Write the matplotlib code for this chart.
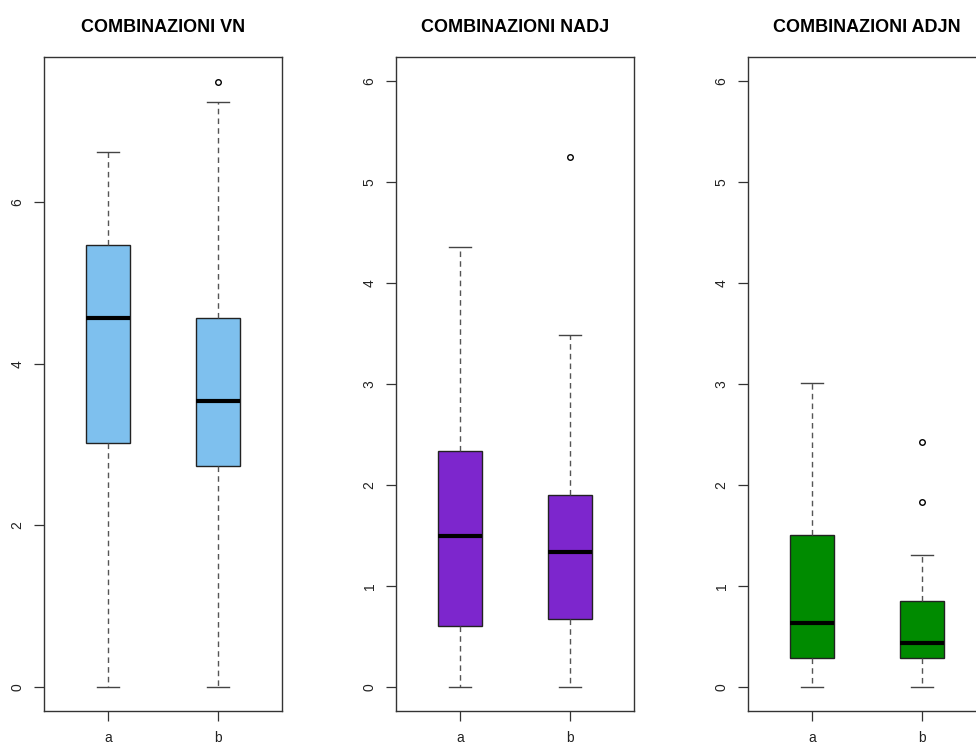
import matplotlib
matplotlib.use("Agg")
import matplotlib.pyplot as plt

plt.rcParams['font.family'] = ['Liberation Sans', 'DejaVu Sans']

titles = ["COMBINAZIONI VN", "COMBINAZIONI NADJ", "COMBINAZIONI ADJN"]
groups = ["a", "b"]
colors = ["#7EC0EE", "#7D26CD", "#008B00"]

# five-number summaries per panel: [group a, group b]
whislo = [[0.0, 0.0], [0.0, 0.0], [0.0, 0.0]]
q1 = [[3.02, 2.74], [0.60, 0.675], [0.29, 0.29]]
med = [[4.57, 3.54], [1.49, 1.34], [0.635, 0.435]]
q3 = [[5.47, 4.57], [2.34, 1.905], [1.50, 0.853]]
whishi = [[6.62, 7.24], [4.355, 3.49], [3.005, 1.31]]
fliers = [[[], [7.49]], [[], [5.25]], [[], [2.43, 1.835]]]
ylims = [(0, 7.5), (0, 6), (0, 6)]
yticks = [[0, 2, 4, 6], [0, 1, 2, 3, 4, 5, 6], [0, 1, 2, 3, 4, 5, 6]]

fig = plt.figure(figsize=(9.76, 7.47), dpi=100)
lefts = [44 / 976, 396 / 976, 748 / 976]
W = 238 / 976
B = 1 - 711 / 747
H = (711 - 57) / 747

for i in range(3):
    ax = fig.add_axes([lefts[i], B, W, H])
    stats = []
    for j in range(2):
        stats.append(dict(whislo=whislo[i][j], q1=q1[i][j], med=med[i][j],
                          q3=q3[i][j], whishi=whishi[i][j], fliers=fliers[i][j],
                          label=groups[j]))
    ax.bxp(stats, positions=[1, 2], widths=0.4, patch_artist=True,
           boxprops=dict(facecolor=colors[i], edgecolor="#222222", linewidth=1.0),
           medianprops=dict(color="black", linewidth=3.0, solid_capstyle="butt"),
           whiskerprops=dict(color="#555555", linewidth=1.0, linestyle=(0, (4, 3))),
           capprops=dict(color="#444444", linewidth=1.0),
           flierprops=dict(marker="o", markersize=4, markerfacecolor="none",
                           markeredgecolor="black", markeredgewidth=1.0),
           capwidths=0.2)
    lo, hi = ylims[i]
    ext = (hi - lo) * 0.04
    ax.set_ylim(lo - ext, hi + ext)
    ax.set_xlim(0.5 - 0.08, 2.5 + 0.08)
    ax.set_yticks(yticks[i])
    ax.set_yticklabels([str(t) for t in yticks[i]], rotation=90, va="center")
    ax.set_xticks([1, 2])
    ax.set_xticklabels(groups)
    ax.tick_params(axis="y", length=7, width=0.9, pad=7, labelsize=10,
                   colors="#333333", labelcolor="#222222")
    ax.tick_params(axis="x", length=7, width=0.9, pad=7.5, labelsize=10,
                   colors="#333333", labelcolor="#222222")
    for s in ax.spines.values():
        s.set_color("#333333")
        s.set_linewidth(1.0)
    ax.set_title(titles[i], fontsize=13, fontweight="bold", pad=18)

fig.savefig("out.png", dpi=100)
